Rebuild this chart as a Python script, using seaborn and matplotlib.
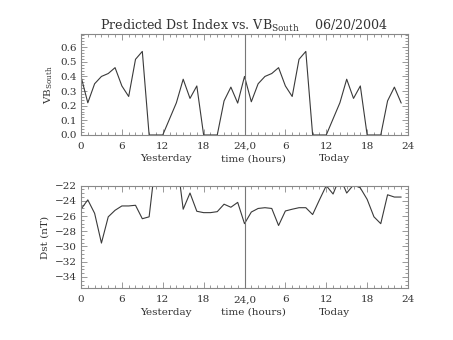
import numpy as np
import pandas as pd
import matplotlib
matplotlib.use("Agg")
import matplotlib.pyplot as plt
import seaborn as sns
from matplotlib.ticker import MultipleLocator, FixedLocator

# ---- data (hourly, 48 hours: yesterday 0-23, today 24-47) ----
hours = list(range(48))
vb_south = [0.40, 0.22, 0.35, 0.40, 0.42, 0.46, 0.335, 0.263, 0.517, 0.571,
            0.0, 0.0, 0.0, 0.11, 0.22, 0.381, 0.25, 0.335, 0.0, 0.0,
            0.0, 0.233, 0.327, 0.218,
            0.40, 0.227, 0.35, 0.40, 0.42, 0.46, 0.335, 0.263, 0.517, 0.571,
            0.0, 0.0, 0.0, 0.11, 0.22, 0.381, 0.25, 0.335, 0.0, 0.0,
            0.0, 0.233, 0.327, 0.218]
dst = [-25.1, -23.87, -25.64, -29.55, -26.1, -25.24, -24.67, -24.67, -24.58, -26.35,
       -26.1, -18.4, -18.0, -18.0, -18.0, -25.1, -22.97, -25.37, -25.55, -25.55,
       -25.42, -24.44, -24.84, -24.2,
       -27.0, -25.47, -25.0, -24.9, -25.0, -27.24, -25.33, -25.1, -24.9, -24.9,
       -25.8, -23.87, -22.0, -23.1, -20.9, -22.97, -21.9, -22.3, -23.8, -26.1,
       -27.0, -23.2, -23.5, -23.5]
xtick_pos = [0, 6, 12, 18, 24, 30, 36, 42, 48]
xtick_labels = ["0", "6", "12", "18", "24,0", "6", "12", "18", "24"]
title_text = "Predicted Dst Index vs. VB$_{\\mathregular{South}}$    06/20/2004"

df = pd.DataFrame({"hour": hours, "vb": vb_south, "dst": dst})

sns.set_style("ticks")
plt.rcParams["font.family"] = ["DejaVu Serif"]
plt.rcParams["mathtext.fontset"] = "dejavuserif"

fig = plt.figure(figsize=(4.53, 3.40), dpi=100)
ax1 = fig.add_axes([0.1788, 0.603, 0.7219, 0.297])
ax2 = fig.add_axes([0.1788, 0.152, 0.7219, 0.302])

line_c = "#3a3a3a"
frame_c = "#888888"
text_c = "#333333"

sns.lineplot(data=df, x="hour", y="vb", ax=ax1, color=line_c, linewidth=0.8)
sns.lineplot(data=df, x="hour", y="dst", ax=ax2, color=line_c, linewidth=0.8)

for ax in (ax1, ax2):
    ax.axvline(24, color="#777777", linewidth=0.8)
    ax.set_xlim(0, 48)
    ax.xaxis.set_major_locator(FixedLocator(xtick_pos))
    ax.set_xticklabels(xtick_labels)
    ax.xaxis.set_minor_locator(MultipleLocator(1))
    ax.tick_params(which="both", direction="in", top=True, right=True,
                   colors=frame_c, labelcolor=text_c, labelsize=7.5, width=0.6)
    ax.tick_params(which="major", length=4)
    ax.tick_params(which="minor", length=2)
    ax.tick_params(axis="x", pad=5)
    ax.tick_params(axis="y", pad=3)
    for s in ax.spines.values():
        s.set_color(frame_c)
        s.set_linewidth(0.8)
    ax.set_xlabel("")
    ax.text(12.5, -0.19, "Yesterday", transform=ax.get_xaxis_transform(),
            ha="center", va="top", fontsize=7.5, color=text_c)
    ax.text(25.3, -0.19, "time (hours)", transform=ax.get_xaxis_transform(),
            ha="center", va="top", fontsize=7.5, color=text_c)
    ax.text(37.2, -0.19, "Today", transform=ax.get_xaxis_transform(),
            ha="center", va="top", fontsize=7.5, color=text_c)

ax1.set_ylim(0, 0.69)
ax1.yaxis.set_major_locator(MultipleLocator(0.1))
ax1.yaxis.set_minor_locator(MultipleLocator(0.02))
ax1.yaxis.set_major_formatter(matplotlib.ticker.FormatStrFormatter("%.1f"))
ax1.set_ylabel("VB$_{\\mathregular{South}}$", fontsize=7.5, color=text_c, labelpad=4)

ax2.set_ylim(-35.5, -22)
ax2.yaxis.set_major_locator(FixedLocator([-34, -32, -30, -28, -26, -24, -22]))
ax2.yaxis.set_minor_locator(MultipleLocator(0.5))
ax2.set_ylabel("Dst (nT)", fontsize=7.5, color=text_c, labelpad=4)

ax1.set_title(title_text, fontsize=9.1, color=text_c, pad=3)

fig.savefig("out.png", dpi=100, facecolor="white")
